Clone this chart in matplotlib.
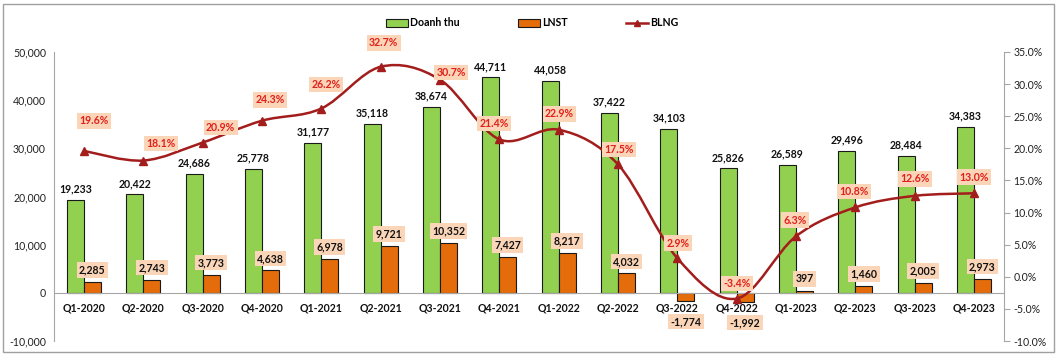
import matplotlib
matplotlib.use('Agg')
import matplotlib.pyplot as plt
from matplotlib.path import Path
from matplotlib.patches import PathPatch, Rectangle, Patch
from matplotlib.lines import Line2D
from matplotlib import font_manager
import numpy as np

# ---------------- data ----------------
categories = ["Q1-2020", "Q2-2020", "Q3-2020", "Q4-2020",
              "Q1-2021", "Q2-2021", "Q3-2021", "Q4-2021",
              "Q1-2022", "Q2-2022", "Q3-2022", "Q4-2022",
              "Q1-2023", "Q2-2023", "Q3-2023", "Q4-2023"]
revenue = [19233, 20422, 24686, 25778, 31177, 35118, 38674, 44711,
           44058, 37422, 34103, 25826, 26589, 29496, 28484, 34383]
profit = [2285, 2743, 3773, 4638, 6978, 9721, 10352, 7427,
          8217, 4032, -1774, -1992, 397, 1460, 2005, 2973]
margin = [19.6, 18.1, 20.9, 24.3, 26.2, 32.7, 30.7, 21.4,
          22.9, 17.5, 2.9, -3.4, 6.3, 10.8, 12.6, 13.0]
left_ticks = [-10000, 0, 10000, 20000, 30000, 40000, 50000]
right_ticks = [-10, -5, 0, 5, 10, 15, 20, 25, 30, 35]

# label offsets (pixels) for margin labels – style only
pct_offsets = [(10, 30), (18, 17), (18, 15), (8, 21), (5, 24), (3, 24), (11, 7), (-5, 16),
               (1, 16), (1, 15), (1, 15), (0, 15), (-1, 16), (-1, 16), (0, 17), (0, 16)]

installed = {f.name for f in font_manager.fontManager.ttflist}
if 'Liberation Sans Narrow' in installed:
    FONT = ['Liberation Sans Narrow', 'DejaVu Sans']
    FS, TFS = 8.6, 8.3
else:
    FONT = ['Lato', 'DejaVu Sans']
    FS, TFS = 7.6, 7.6
plt.rcParams['font.family'] = FONT

GREEN = '#92D050'
ORANGE = '#E46C0A'
LINE = '#A31D1D'
PCT_TXT = '#E0201B'
PEACH = '#FBD5B8'
AXC = '#A6A6A6'

fig = plt.figure(figsize=(10.59, 3.56), dpi=100)
L, R = 54.3, 1003.6
T, B = 52, 341
ax = fig.add_axes([L / 1059, 1 - B / 356, (R - L) / 1059, (B - T) / 356])
ax2 = ax.twinx()
ax.spines['bottom'].set_position(('data', 0))

x = np.arange(len(categories))
w = 0.285
ax.bar(x - w / 2, revenue, w, color=GREEN, edgecolor='#1a1a1a', linewidth=0.8, zorder=2)
ax.bar(x + w / 2, profit, w, color=ORANGE, edgecolor='#1a1a1a', linewidth=0.8, zorder=2)

ax.set_xlim(-0.5, len(categories) - 0.5)
ax.set_ylim(-10000, 50000)
ax2.set_ylim(-10, 35)

# revenue labels
for xi, v in zip(x, revenue):
    ax.annotate(f"{v:,}", (xi - w / 2, v), xytext=(0, 11), textcoords='offset pixels',
                ha='center', va='center', fontsize=FS, fontweight='bold', color='#111111')
# profit labels
for xi, v in zip(x, profit):
    dy = 12 if v >= 0 else -20
    ax.annotate(f"{v:,}", (xi + w / 2, v), xytext=(0, dy), textcoords='offset pixels',
                ha='center', va='center', fontsize=FS, fontweight='bold', color='#111111',
                bbox=dict(boxstyle='square,pad=0.22', fc=PEACH, ec='none'), zorder=5)

# smoothed margin line (Bezier through points, Excel style)
pts = np.column_stack([x.astype(float), np.array(margin, dtype=float)])
n = len(pts)
verts = [tuple(pts[0])]
codes = [Path.MOVETO]
for i in range(n - 1):
    p0 = pts[i - 1] if i > 0 else pts[i]
    p1 = pts[i]
    p2 = pts[i + 1]
    p3 = pts[i + 2] if i + 2 < n else pts[i + 1]
    c1 = p1 + (p2 - p0) / 6.0
    c2 = p2 - (p3 - p1) / 6.0
    verts += [tuple(c1), tuple(c2), tuple(p2)]
    codes += [Path.CURVE4] * 3
ax2.add_patch(PathPatch(Path(verts, codes), fc='none', ec=LINE, lw=1.8, zorder=3))
ax2.plot(x, margin, linestyle='none', marker='^', ms=6, color=LINE, zorder=4)

for xi, v, (dx, dy) in zip(x, margin, pct_offsets):
    ax2.annotate(f"{v:.1f}%", (xi, v), xytext=(dx, dy), textcoords='offset pixels',
                 ha='center', va='center', fontsize=FS, fontweight='bold', color=PCT_TXT,
                 bbox=dict(boxstyle='square,pad=0.22', fc=PEACH, ec='none'), zorder=6)

# axes styling
ax.set_xticks(x)
ax.set_xticklabels(categories)
ax.spines['bottom'].set_color(AXC)
ax.tick_params(axis='x', length=0, pad=7, labelsize=FS, labelcolor='#111111')
for t in ax.get_xticklabels():
    t.set_fontweight('bold')
ax.set_yticks(left_ticks)
ax.set_yticklabels([f"{t:,}" for t in left_ticks])
ax.tick_params(axis='y', length=0, pad=6, labelsize=TFS, labelcolor='#222222')
ax.spines['left'].set_color(AXC)
for s in ['top', 'right']:
    ax.spines[s].set_visible(False)
for s in ['top', 'left', 'bottom']:
    ax2.spines[s].set_visible(False)
ax2.spines['right'].set_color(AXC)
ax2.set_yticks(right_ticks)
ax2.set_yticklabels([f"{t:.1f}%" for t in right_ticks])
ax2.tick_params(axis='y', length=4, color=AXC, direction='out', pad=3,
                labelsize=TFS, labelcolor='#222222')

# legend
handles = [Patch(fc=GREEN, ec='#1a1a1a', lw=0.8),
           Patch(fc=ORANGE, ec='#1a1a1a', lw=0.8),
           Line2D([0], [0], color=LINE, lw=1.8, marker='^', ms=5)]
fig.legend(handles, ['Doanh thu', 'LNST', 'BLNG'], loc='center', ncol=3,
           bbox_to_anchor=(532 / 1059, 1 - 23 / 356), frameon=False,
           prop={'size': FS, 'weight': 'bold'}, handlelength=2.1, handleheight=0.7,
           columnspacing=5.5, handletextpad=0.2)

# outer border
fig.patches.append(Rectangle((3 / 1059, 4 / 356), 1051 / 1059, 348 / 356,
                             transform=fig.transFigure, fill=False, ec='#A0A0A0', lw=1.0))

fig.savefig('out.png', dpi=100)
